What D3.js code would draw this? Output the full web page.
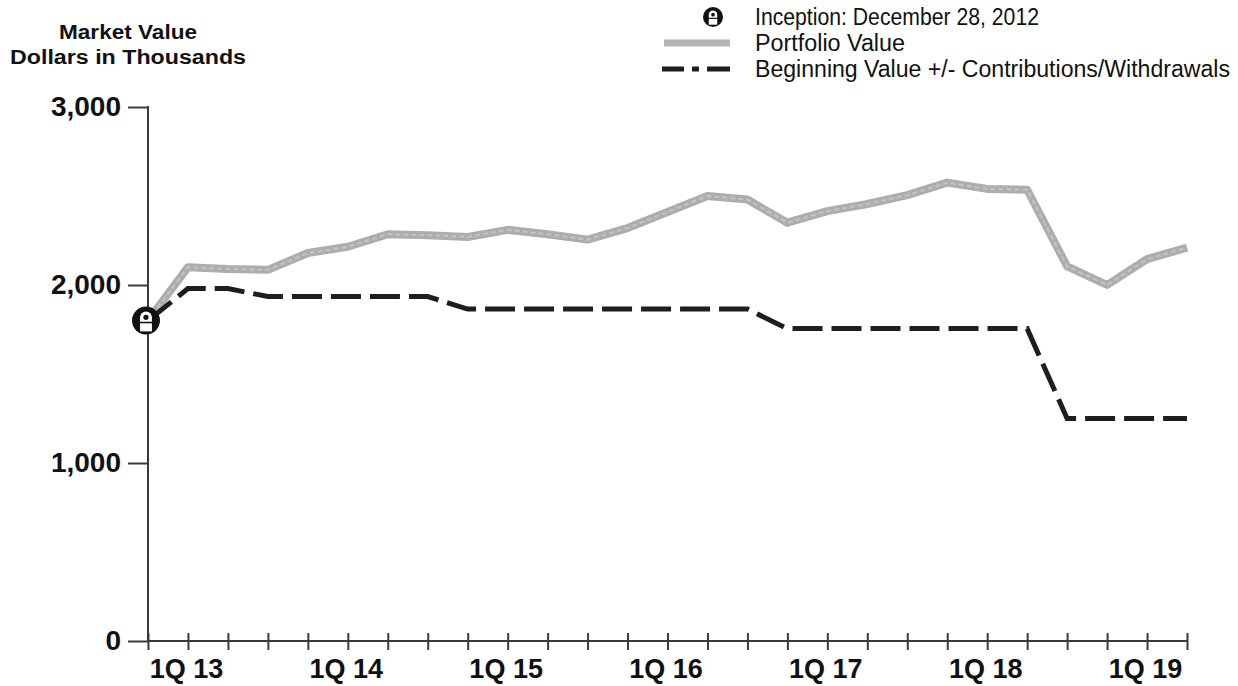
<!DOCTYPE html>
<html>
<head>
<meta charset="utf-8">
<script src="https://cdn.jsdelivr.net/npm/d3@7"></script>
<style>
  body { margin: 0; background: #fff; }
  text { font-family: Arial, "Liberation Sans", sans-serif; fill: #111; }
</style>
</head>
<body>
<div id="chart"></div>
<script>
// quarter ends, starting at inception (Dec 28, 2012)
const quarters = ["4Q 12",
  "1Q 13", "2Q 13", "3Q 13", "4Q 13",
  "1Q 14", "2Q 14", "3Q 14", "4Q 14",
  "1Q 15", "2Q 15", "3Q 15", "4Q 15",
  "1Q 16", "2Q 16", "3Q 16", "4Q 16",
  "1Q 17", "2Q 17", "3Q 17", "4Q 17",
  "1Q 18", "2Q 18", "3Q 18", "4Q 18",
  "1Q 19", "2Q 19"];

// market value, dollars in thousands
const portfolioValue = [1800,
  2100, 2090, 2085, 2180,
  2215, 2285, 2280, 2270,
  2310, 2285, 2255, 2320,
  2410, 2500, 2480, 2350,
  2415, 2455, 2505, 2575,
  2540, 2535, 2105, 2000,
  2145, 2210];

const contribValue = [1800,
  1980, 1980, 1935, 1935,
  1935, 1935, 1935, 1865,
  1865, 1865, 1865, 1865,
  1865, 1865, 1865, 1755,
  1755, 1755, 1755, 1755,
  1755, 1755, 1250, 1250,
  1250, 1250];

const yTicks = [0, 1000, 2000, 3000];
const legendLabels = ["Inception: December 28, 2012", "Portfolio Value",
  "Beginning Value +/- Contributions/Withdrawals"];

const W = 1238, H = 686;
const svg = d3.select("#chart").append("svg")
  .attr("width", W).attr("height", H);

const x = d3.scaleLinear().domain([0, quarters.length - 1]).range([148, 1187]);
const y = d3.scaleLinear().domain([0, 3000]).range([641, 107]);

const axisColor = "#3a3a3a";

// y axis
const yAxis = svg.append("g")
  .attr("transform", "translate(148,0)")
  .call(d3.axisLeft(y).tickValues(yTicks).tickSize(20).tickPadding(7)
    .tickFormat(d3.format(",")));
yAxis.select(".domain").remove();
yAxis.selectAll(".tick line").attr("stroke", axisColor).attr("stroke-width", 2);
yAxis.selectAll(".tick text")
  .style("font-size", "28px").style("font-weight", "bold")
  .attr("fill", "#111");
svg.append("line")
  .attr("x1", 148).attr("x2", 148)
  .attr("y1", y(3000) - 1).attr("y2", y(0))
  .attr("stroke", axisColor).attr("stroke-width", 2);

// x axis, ticks cross the line
const xAxis = svg.append("g")
  .attr("transform", `translate(0,${y(0)})`)
  .call(d3.axisBottom(x).tickValues(d3.range(quarters.length))
    .tickFormat(i => quarters[i].startsWith("1Q") ? quarters[i] : ""));
xAxis.select(".domain")
  .attr("d", `M${x(0)},0H${x(quarters.length - 1)}`)
  .attr("stroke", axisColor).attr("stroke-width", 2);
xAxis.selectAll(".tick line")
  .attr("y1", -8).attr("y2", 9)
  .attr("stroke", axisColor).attr("stroke-width", 2);
xAxis.selectAll(".tick text")
  .attr("y", 37).attr("dy", null)
  .attr("dx", -2)
  .style("font-size", "27px").style("font-weight", "bold")
  .attr("fill", "#111");

// y axis title
svg.append("text")
  .attr("x", 128).attr("y", 39)
  .attr("text-anchor", "middle")
  .attr("textLength", 138).attr("lengthAdjust", "spacingAndGlyphs")
  .style("font-size", "20px").style("font-weight", "bold")
  .text("Market Value");
svg.append("text")
  .attr("x", 128).attr("y", 64)
  .attr("text-anchor", "middle")
  .attr("textLength", 236).attr("lengthAdjust", "spacingAndGlyphs")
  .style("font-size", "20px").style("font-weight", "bold")
  .text("Dollars in Thousands");

const line = d3.line()
  .x((d, i) => x(i))
  .y(d => y(d));

// portfolio value (thick grey)
svg.append("path")
  .datum(portfolioValue)
  .attr("fill", "none")
  .attr("stroke", "#adadad")
  .attr("stroke-width", 8)
  .attr("stroke-linejoin", "round")
  .attr("d", line);
svg.append("path")
  .datum(portfolioValue)
  .attr("fill", "none")
  .attr("stroke", "#c4c4c4")
  .attr("stroke-width", 2)
  .attr("stroke-dasharray", "5,3")
  .attr("d", line);

// beginning value +/- contributions (dash)
svg.append("path")
  .datum(contribValue)
  .attr("fill", "none")
  .attr("stroke", "#1e1e1e")
  .attr("stroke-width", 5)
  .attr("stroke-dasharray", "30,9")
  .attr("d", line);

// inception marker
const inceptionIcon = (g, cx, cy, r) => {
  g.append("circle").attr("cx", cx).attr("cy", cy).attr("r", r).attr("fill", "#111");
  const k = r / 13;
  g.append("path")
    .attr("d", `M${cx - 5.5 * k},${cy + 1 * k} V${cy - 3 * k} A${5.5 * k},${5.5 * k} 0 0 1 ${cx + 5.5 * k},${cy - 3 * k} V${cy + 1 * k} Z`)
    .attr("fill", "#fff");
  g.append("circle").attr("cx", cx).attr("cy", cy - 3 * k).attr("r", 2.4 * k).attr("fill", "#111");
  g.append("rect")
    .attr("x", cx - 5.5 * k).attr("y", cy + 2.5 * k)
    .attr("width", 11 * k).attr("height", 7.5 * k)
    .attr("fill", "#fff");
};
inceptionIcon(svg.append("g"), x(0) - 2, y(portfolioValue[0]), 14);

// legend
const legendLength = [284, 150, 475];
const leg = svg.append("g");
inceptionIcon(leg.append("g"), 713, 17, 10);
leg.append("line")
  .attr("x1", 664).attr("x2", 730).attr("y1", 43).attr("y2", 43)
  .attr("stroke", "#b4b4b4").attr("stroke-width", 7);
leg.append("line")
  .attr("x1", 662).attr("x2", 730).attr("y1", 69).attr("y2", 69)
  .attr("stroke", "#1e1e1e").attr("stroke-width", 5)
  .attr("stroke-dasharray", "22,8,7,8,23");
leg.selectAll("text.legend")
  .data(legendLabels)
  .join("text")
  .attr("class", "legend")
  .attr("x", 755)
  .attr("y", (d, i) => 25 + i * 26)
  .attr("textLength", (d, i) => legendLength[i])
  .attr("lengthAdjust", "spacingAndGlyphs")
  .style("font-size", "23px")
  .text(d => d);
</script>
</body>
</html>
